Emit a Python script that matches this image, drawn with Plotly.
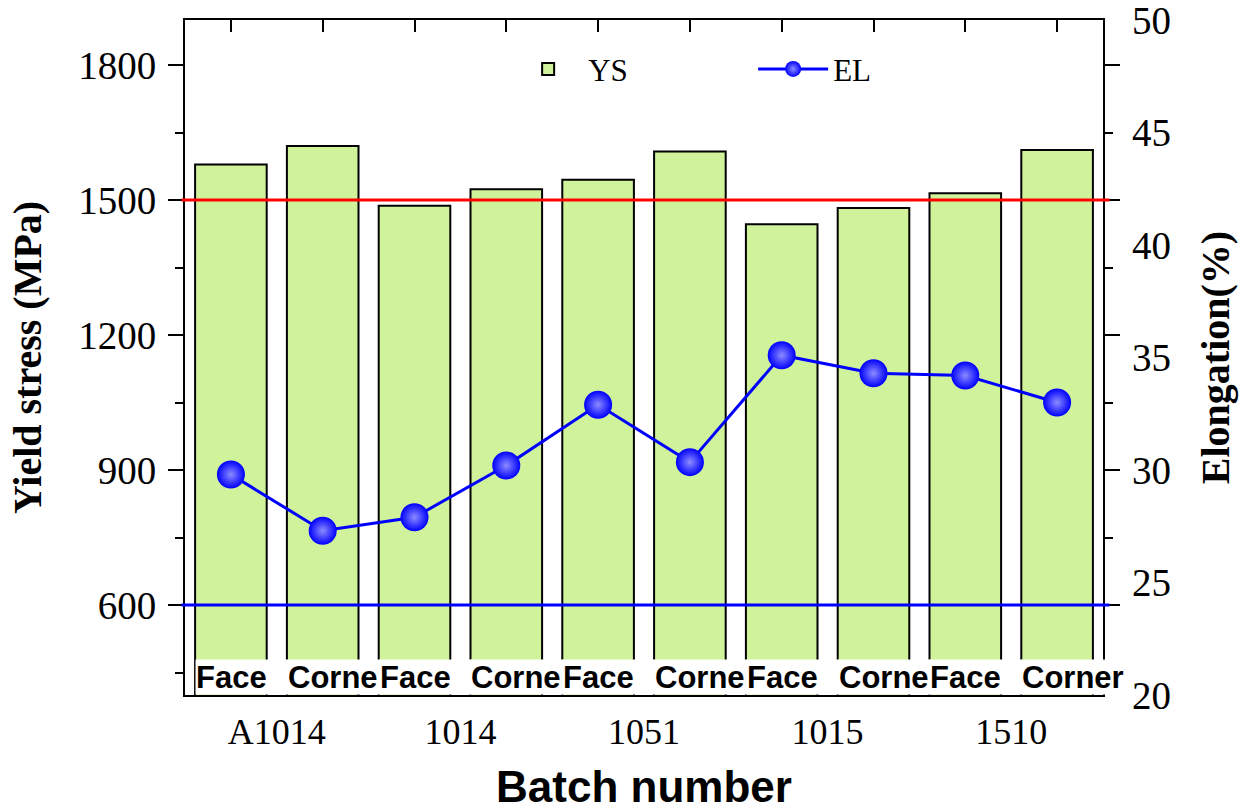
import plotly.graph_objects as go

# ---- data ----
positions = ["Face", "Corne", "Face", "Corne", "Face", "Corne", "Face", "Corne", "Face", "Corner"]
batches = ["A1014", "1014", "1051", "1015", "1510"]
ys_values = [1579, 1620, 1487, 1524, 1545, 1608, 1446, 1482, 1515, 1611]
el_values = [29.8, 27.3, 27.9, 30.2, 32.9, 30.35, 35.1, 34.3, 34.2, 33.0]
ys_limit = 1500
el_limit = 24
left_ticks = [600, 900, 1200, 1500, 1800]
right_ticks = [20, 25, 30, 35, 40, 45, 50]

idx = list(range(len(ys_values)))
group_centers = [2 * i + 0.5 for i in range(len(batches))]

SERIF = "Liberation Serif"
SANS = "Liberation Sans"

fig = go.Figure()
fig.add_trace(go.Bar(
    x=idx, y=ys_values, name="YS", width=0.78,
    marker=dict(color="#d0f29a", line=dict(color="black", width=2)),
))
fig.add_trace(go.Scatter(
    x=idx, y=el_values, name="EL", xaxis="x2", yaxis="y2", mode="lines+markers",
    line=dict(color="#0000ff", width=3),
    marker=dict(size=28, color="#0000ff", line=dict(width=0),
                gradient=dict(type="radial", color="#8c8cff")),
))

# limit lines
fig.add_shape(type="line", xref="paper", x0=-0.004, x1=1.007, yref="y", y0=ys_limit, y1=ys_limit,
              line=dict(color="#ff0000", width=3), layer="above")
fig.add_shape(type="line", xref="paper", x0=-0.004, x1=1.007, yref="y2", y0=el_limit, y1=el_limit,
              line=dict(color="#0000ff", width=3), layer="above")

# position labels in white boxes
for i, lab in zip(idx, positions):
    last = i == idx[-1]
    fig.add_annotation(
        x=i, xref="x", y=0, yref="paper", xanchor="left", yanchor="bottom",
        xshift=-36, yshift=0, text="<b>%s</b>" % lab, showarrow=False,
        font=dict(family=SANS, size=31, color="black"),
        bgcolor="white", width=106 if last else 92, height=34, align="left", borderpad=0,
    )

fig.update_layout(
    width=1240, height=811,
    margin=dict(l=185, r=137, t=20, b=116, autoexpand=False),
    paper_bgcolor="white", plot_bgcolor="white",
    showlegend=True,
    legend=dict(orientation="h", x=0.352, y=0.967, xanchor="left", yanchor="top",
                font=dict(family=SERIF, size=31, color="black"),
                bgcolor="rgba(0,0,0,0)", itemwidth=70, tracegroupgap=0,
                entrywidth=160),
    xaxis=dict(
        range=[-0.5, len(idx) - 0.5], tickvals=group_centers, ticktext=batches,
        ticks="", showgrid=False, zeroline=False, automargin=False,
        showline=True, linecolor="black", linewidth=2, mirror=True,
        tickfont=dict(family=SERIF, size=36, color="black"),
        ticklabelstandoff=4,
        title=dict(text="<b>Batch number</b>", font=dict(family=SANS, size=44, color="black"),
                   standoff=22),
    ),
    xaxis2=dict(
        overlaying="x", side="top", anchor="y", range=[-0.5, len(idx) - 0.5], tickvals=idx,
        ticks="inside", ticklen=12, tickwidth=2, tickcolor="black", automargin=False,
        showticklabels=False, showgrid=False, zeroline=False, showline=False,
    ),
    yaxis=dict(
        range=[400, 1900], tickvals=left_ticks, ticks="outside", ticklen=15, tickwidth=2,
        tickcolor="black", showgrid=False, zeroline=False, automargin=False,
        showline=True, linecolor="black", linewidth=2, mirror="ticks",
        minor=dict(dtick=150, tick0=0, ticks="outside", ticklen=8, tickwidth=2, tickcolor="black"),
        tickfont=dict(family=SERIF, size=39, color="black"),
        ticklabelstandoff=4,
        title=dict(text="<b>Yield stress (MPa)</b>", font=dict(family=SERIF, size=40, color="black"),
                   standoff=24),
    ),
    yaxis2=dict(
        overlaying="y", side="right", anchor="x", range=[20, 50], tickvals=right_ticks, ticks="",
        showgrid=False, zeroline=False, showline=False, automargin=False,
        tickfont=dict(family=SERIF, size=39, color="black"),
        ticklabelstandoff=28, ticklabeloverflow="allow",
        title=dict(text="<b>Elongation(%)</b>", font=dict(family=SERIF, size=40, color="black"),
                   standoff=30),
    ),
)

fig.write_html("out.html")
